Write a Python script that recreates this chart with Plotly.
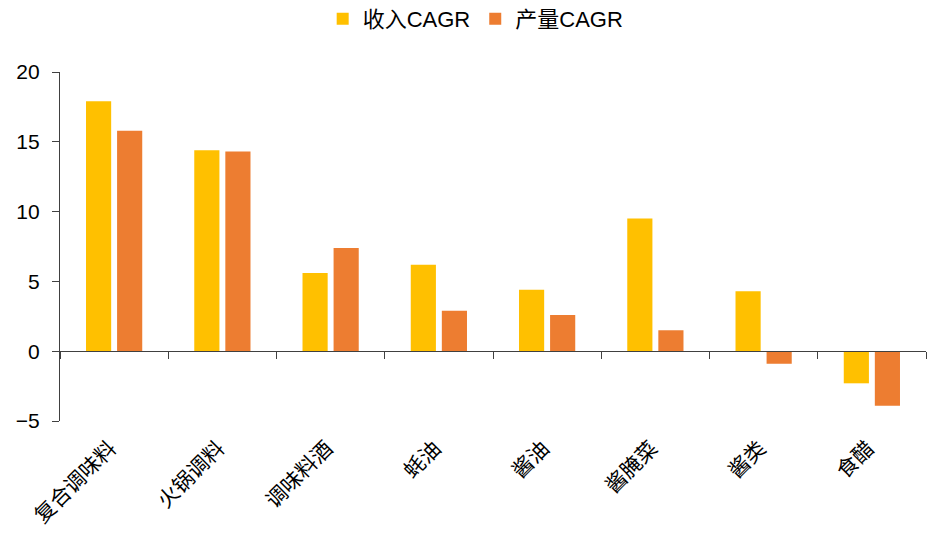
import plotly.graph_objects as go

categories = ['复合调味料', '火锅调料', '调味料酒', '蚝油', '酱油', '酱腌菜', '酱类', '食醋']
revenue_cagr = [17.9, 14.4, 5.6, 6.2, 4.4, 9.5, 4.3, -2.3]
output_cagr = [15.8, 14.3, 7.4, 2.9, 2.6, 1.5, -0.9, -3.9]
series_names = ['收入CAGR', '产量CAGR']
y_ticks = [-5, 0, 5, 10, 15, 20]

FONT = 'Liberation Sans, Arial, Noto Sans CJK SC, sans-serif'
AXIS_COLOR = '#404040'

fig = go.Figure()
fig.add_trace(go.Bar(x=categories, y=revenue_cagr, name=series_names[0],
                     marker=dict(color='#FFC000', line=dict(width=0))))
fig.add_trace(go.Bar(x=categories, y=output_cagr, name=series_names[1],
                     marker=dict(color='#ED7D31', line=dict(width=0))))
# invisible trace carrying category labels on the bottom axis
fig.add_trace(go.Scatter(x=categories, y=[0] * len(categories), xaxis='x2',
                         mode='markers', marker=dict(opacity=0),
                         showlegend=False, hoverinfo='skip'))

fig.update_layout(
    width=928, height=533,
    margin=dict(l=60, r=2, t=72, b=112, autoexpand=False),
    plot_bgcolor='white', paper_bgcolor='white',
    barmode='group', bargap=0.426, bargroupgap=0.19,
    font=dict(family=FONT, size=20, color='black'),
    showlegend=True,
    legend=dict(orientation='h', x=0.48, xanchor='center', y=1.092, yanchor='bottom',
                font=dict(size=22, family=FONT), traceorder='normal',
                itemwidth=30),
    xaxis=dict(type='category', categoryorder='array', categoryarray=categories,
               range=[-0.5, len(categories) - 0.5],
               anchor='free', position=0.2,
               showline=True, linecolor=AXIS_COLOR, linewidth=1.3,
               ticks='outside', tickson='boundaries', ticklen=7,
               tickcolor=AXIS_COLOR, tickwidth=1.3,
               showticklabels=False, showgrid=False, zeroline=False),
    xaxis2=dict(type='category', categoryorder='array', categoryarray=categories,
                range=[-0.5, len(categories) - 0.5],
                overlaying='x', anchor='y', side='bottom',
                showline=False, ticks='', showgrid=False, zeroline=False,
                tickangle=-45, tickfont=dict(size=21, family=FONT),
                ticklabelstandoff=10, ticklabelshift=-4, automargin=False),
    yaxis=dict(range=[-5, 20], tickmode='array', tickvals=y_ticks,
               showline=True, linecolor=AXIS_COLOR, linewidth=1.3,
               ticks='outside', ticklen=7, tickcolor=AXIS_COLOR, tickwidth=1.3,
               showgrid=False, zeroline=False, automargin=False,
               tickfont=dict(size=21, family=FONT), ticklabelstandoff=8),
)

fig.write_html('out.html')
